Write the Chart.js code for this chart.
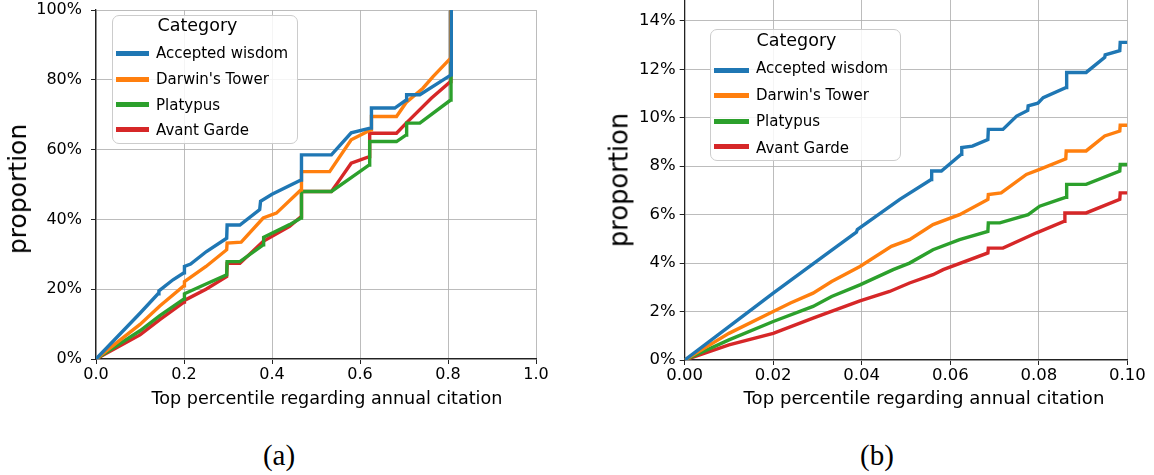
<!DOCTYPE html>
<html><head><meta charset="utf-8">
<script src="https://cdn.jsdelivr.net/npm/chart.js@4.4.1/dist/chart.umd.min.js"></script>
<style>
html,body{margin:0;padding:0;background:#fff;}
body{width:1154px;height:475px;position:relative;overflow:hidden;font-family:'DejaVu Sans',sans-serif;}
.cv{position:absolute;top:0;}
.legend{position:absolute;box-sizing:border-box;border:1.5px solid #cccccc;border-radius:7px;background:rgba(255,255,255,0.85);}
.lg-title,.lg-text{position:absolute;white-space:nowrap;color:#000;font-family:'DejaVu Sans',sans-serif;}
.lg-sw{position:absolute;height:5px;}
.axt{position:absolute;white-space:nowrap;color:#000;font-family:'DejaVu Sans',sans-serif;}
.cap{position:absolute;font-family:'Liberation Serif',serif;font-size:29px;line-height:29px;transform:translateX(-50%);color:#000;}
</style></head><body>
<canvas id="ca" class="cv" width="570" height="420" style="left:0px"></canvas>
<canvas id="cb" class="cv" width="574" height="420" style="left:580px"></canvas>
<div class="cap" style="left:279px;top:441px">(a)</div>
<div class="cap" style="left:877px;top:441px">(b)</div>
<script>
// ---------- data ----------
const categories = ['Accepted wisdom', "Darwin's Tower", 'Platypus', 'Avant Garde'];
const legendTitle = 'Category';
const xTitle = 'Top percentile regarding annual citation';
const yTitle = 'proportion';

// panel (a): [top percentile, proportion]
const aAccepted = [[0,0],[0.1,0.131],[0.141,0.187],[0.143,0.195],[0.175,0.227],[0.2,0.247],[0.201,0.265],[0.215,0.272],[0.251,0.308],[0.297,0.346],[0.298,0.384],[0.327,0.384],[0.372,0.428],[0.374,0.452],[0.4,0.472],[0.466,0.513],[0.467,0.585],[0.535,0.585],[0.58,0.648],[0.625,0.662],[0.626,0.719],[0.679,0.719],[0.705,0.742],[0.706,0.757],[0.736,0.757],[0.807,0.814],[0.8075,1.0]];
const aDarwin = [[0,0],[0.1,0.099],[0.145,0.152],[0.2,0.21],[0.201,0.222],[0.25,0.265],[0.297,0.313],[0.298,0.332],[0.33,0.335],[0.38,0.404],[0.41,0.418],[0.466,0.485],[0.467,0.537],[0.531,0.537],[0.58,0.628],[0.625,0.657],[0.626,0.695],[0.683,0.695],[0.705,0.735],[0.743,0.776],[0.766,0.809],[0.806,0.862],[0.8065,1.0]];
const aPlatypus = [[0,0],[0.1,0.081],[0.145,0.124],[0.2,0.172],[0.201,0.187],[0.25,0.215],[0.297,0.241],[0.298,0.279],[0.327,0.279],[0.38,0.327],[0.381,0.349],[0.44,0.385],[0.466,0.404],[0.467,0.48],[0.535,0.48],[0.58,0.52],[0.621,0.556],[0.622,0.623],[0.683,0.623],[0.705,0.642],[0.706,0.676],[0.736,0.676],[0.806,0.742],[0.8068,1.0]];
const aAvant = [[0,0],[0.1,0.069],[0.145,0.113],[0.2,0.163],[0.201,0.168],[0.25,0.2],[0.297,0.236],[0.298,0.274],[0.327,0.274],[0.38,0.337],[0.44,0.38],[0.466,0.408],[0.467,0.48],[0.535,0.48],[0.554,0.514],[0.58,0.561],[0.621,0.58],[0.622,0.647],[0.683,0.647],[0.705,0.676],[0.762,0.747],[0.806,0.795],[0.8066,1.0]];

// panel (b): zoom into the top 10%
const bAccepted = [[0,0],[0.01,0.0138],[0.02,0.0276],[0.033,0.045],[0.0388,0.0528],[0.039,0.0538],[0.0486,0.0663],[0.0557,0.0745],[0.0558,0.078],[0.058,0.078],[0.0625,0.0849],[0.0626,0.0877],[0.065,0.0883],[0.0685,0.091],[0.0686,0.0952],[0.0719,0.0952],[0.075,0.1007],[0.0775,0.103],[0.0776,0.1049],[0.0798,0.106],[0.081,0.1083],[0.0862,0.1125],[0.0863,0.1187],[0.0907,0.1187],[0.0949,0.1249],[0.095,0.126],[0.0983,0.1277],[0.0984,0.1311],[0.1,0.1311]];
const bDarwin = [[0,0],[0.01,0.011],[0.02,0.02],[0.0239,0.0235],[0.029,0.0276],[0.0332,0.0324],[0.0396,0.0386],[0.0467,0.0469],[0.0508,0.0497],[0.0561,0.0559],[0.0621,0.06],[0.0685,0.0663],[0.0686,0.0683],[0.0715,0.069],[0.0772,0.0766],[0.0802,0.0787],[0.0861,0.083],[0.0862,0.0863],[0.0907,0.0863],[0.0949,0.0925],[0.0983,0.0945],[0.0984,0.0969],[0.1,0.0969]];
const bPlatypus = [[0,0],[0.01,0.0083],[0.02,0.0159],[0.029,0.0221],[0.0332,0.0262],[0.0396,0.031],[0.0471,0.0373],[0.0508,0.04],[0.0561,0.0455],[0.0621,0.0497],[0.0685,0.0531],[0.0686,0.0566],[0.0712,0.0566],[0.0776,0.06],[0.0802,0.0635],[0.0847,0.0663],[0.0862,0.0672],[0.0863,0.0725],[0.0907,0.0725],[0.0983,0.078],[0.0984,0.0807],[0.1,0.0807]];
const bAvant = [[0,0],[0.01,0.0062],[0.02,0.011],[0.029,0.0173],[0.0396,0.0244],[0.0463,0.0283],[0.0508,0.0318],[0.0561,0.0352],[0.0584,0.0373],[0.0685,0.0442],[0.0686,0.0462],[0.0719,0.0462],[0.0795,0.0525],[0.0858,0.0573],[0.0859,0.0607],[0.0907,0.0607],[0.0983,0.0663],[0.0984,0.069],[0.1,0.069]];

// tick values
const aXTicks = [0, 0.2, 0.4, 0.6, 0.8, 1.0];
const aYTicks = [0, 0.2, 0.4, 0.6, 0.8, 1.0];
const bXTicks = [0, 0.02, 0.04, 0.06, 0.08, 0.10];
const bYTicks = [0, 0.02, 0.04, 0.06, 0.08, 0.10, 0.12, 0.14];

// ---------- styling ----------
const colors = ['#1f77b4', '#ff7f0e', '#2ca02c', '#d62728'];
const gridColor = 'rgba(176,176,176,0.85)';

function makeChart(id, o) {
  const datasets = categories.map((c, i) => ({
    label: c,
    data: o.series[i].map(p => ({x: p[0], y: p[1]})),
    showLine: true, borderColor: colors[i], backgroundColor: colors[i],
    borderWidth: 3.4, pointRadius: 0, pointHoverRadius: 0, tension: 0, fill: false
  }));
  return new Chart(document.getElementById(id), {
    type: 'scatter',
    data: {datasets},
    options: {
      responsive: false, animation: false, events: [],
      layout: {padding: o.pad},
      plugins: {legend: {display: false}, tooltip: {enabled: false}},
      scales: {
        x: {
          type: 'linear', min: o.xMin, max: o.xMax,
          afterBuildTicks: s => { s.ticks = o.xTicks.map(v => ({value: v})); },
          afterFit: s => { s.height = o.xH; s.paddingLeft = 0; s.paddingRight = 0; },
          grid: {color: gridColor, lineWidth: 1, tickLength: 5, tickColor: '#222', drawTicks: true},
          border: {color: '#222', width: 1.3},
          ticks: {font: {family: 'DejaVu Sans', size: o.tickSize}, color: '#000', padding: o.xTickPad,
                  maxRotation: 0, autoSkip: false, callback: v => v.toFixed(o.xDec)},
          title: {display: false}
        },
        y: {
          type: 'linear', min: 0, max: o.yMax,
          afterBuildTicks: s => { s.ticks = o.yTicks.map(v => ({value: v})); },
          afterFit: s => { s.width = o.yW; s.paddingTop = 0; s.paddingBottom = 0; },
          grid: {color: gridColor, lineWidth: 1, tickLength: 5, tickColor: '#222', drawTicks: true},
          border: {color: '#222', width: 1.3},
          ticks: {font: {family: 'DejaVu Sans', size: o.tickSize}, color: '#000', padding: o.yTickPad,
                  autoSkip: false, callback: v => Math.round(v * 100) + '%'},
          title: {display: false}
        }
      }
    }
  });
}

// axis titles as real text elements
function capOffset(size, lh) { return (lh - size * 1.164) / 2 + size * 0.928 - size * 0.729 / 2; }
function addXTitle(cx, capY, size) {
  const d = document.createElement('div');
  d.className = 'axt'; d.textContent = xTitle;
  const lh = Math.round(size * 1.2);
  d.style.fontSize = size + 'px'; d.style.lineHeight = lh + 'px';
  d.style.left = cx + 'px'; d.style.top = (capY - capOffset(size, lh)) + 'px';
  d.style.transform = 'translateX(-50%)';
  document.body.appendChild(d);
}
function addYTitle(baselineX, cy, size) {
  const d = document.createElement('div');
  d.className = 'axt'; d.textContent = yTitle;
  const lh = Math.round(size * 1.2);
  d.style.fontSize = size + 'px'; d.style.lineHeight = lh + 'px';
  const baseFromCenter = (lh - size * 1.164) / 2 + size * 0.928 - lh / 2;
  d.style.left = (baselineX - baseFromCenter) + 'px'; d.style.top = cy + 'px';
  d.style.transform = 'translate(-50%,-50%) rotate(-90deg)';
  document.body.appendChild(d);
}

function buildLegend(chart, L) {
  const box = document.createElement('div');
  box.className = 'legend';
  box.style.left = L.left + 'px'; box.style.top = L.top + 'px';
  box.style.width = L.w + 'px'; box.style.height = L.h + 'px';
  const b = 1.5;
  const t = document.createElement('div');
  t.className = 'lg-title'; t.textContent = legendTitle;
  const tlh = Math.round(L.titleSize * 1.2);
  t.style.fontSize = L.titleSize + 'px'; t.style.lineHeight = tlh + 'px';
  t.style.left = (L.titleX - L.left - b) + 'px';
  t.style.top = (L.titleCapY - capOffset(L.titleSize, tlh) - L.top - b) + 'px';
  box.appendChild(t);
  chart.data.datasets.forEach((ds, i) => {
    const sw = document.createElement('div');
    sw.className = 'lg-sw'; sw.style.background = ds.borderColor;
    sw.style.left = (L.swX0 - L.left - b) + 'px'; sw.style.width = (L.swX1 - L.swX0) + 'px';
    sw.style.top = (L.swY[i] - 2.5 - L.top - b) + 'px';
    box.appendChild(sw);
    const tx = document.createElement('div');
    tx.className = 'lg-text'; tx.textContent = ds.label;
    const lh = Math.round(L.textSize * 1.2);
    tx.style.fontSize = L.textSize + 'px'; tx.style.lineHeight = lh + 'px';
    tx.style.left = (L.textX - L.left - b) + 'px';
    tx.style.top = (L.textCapY[i] - capOffset(L.textSize, lh) - L.top - b) + 'px';
    box.appendChild(tx);
  });
  document.body.appendChild(box);
}

const chartA = makeChart('ca', {
  series: [aAccepted, aDarwin, aPlatypus, aAvant],
  xMin: 0, xMax: 1, yMax: 1, xTicks: aXTicks, yTicks: aYTicks, xDec: 1,
  pad: {left: 0, right: 34, top: 10, bottom: 0}, xH: 61, yW: 96,
  tickSize: 16, xTickPad: 1, yTickPad: 9
});
const chartB = makeChart('cb', {
  series: [bAccepted, bDarwin, bPlatypus, bAvant],
  xMin: 0, xMax: 0.1, yMax: 0.1486, xTicks: bXTicks, yTicks: bYTicks, xDec: 2,
  pad: {left: 0, right: 26.7, top: 0, bottom: 0}, xH: 60, yW: 104.7,
  tickSize: 16.5, xTickPad: 1, yTickPad: 4
});

addXTitle(327, 397.8, 17.6);
addXTitle(924, 397.8, 18.1);
addYTitle(26.7, 189, 25);
addYTitle(628.3, 180, 25.8);

buildLegend(chartA, {left: 112, top: 15, w: 186, h: 129, titleX: 158, titleCapY: 25.8, titleSize: 17.5,
  swX0: 116, swX1: 149.3, swY: [54.3, 80, 105.3, 130], textX: 156.5, textCapY: [53, 79.7, 105.5, 130.3], textSize: 15});
buildLegend(chartB, {left: 710, top: 29, w: 191, h: 132, titleX: 757, titleCapY: 40.3, titleSize: 17.5,
  swX0: 714, swX1: 749, swY: [70.5, 96, 121.7, 147.3], textX: 756.5, textCapY: [68.5, 95, 120.8, 147.8], textSize: 15});
</script>
</body></html>
